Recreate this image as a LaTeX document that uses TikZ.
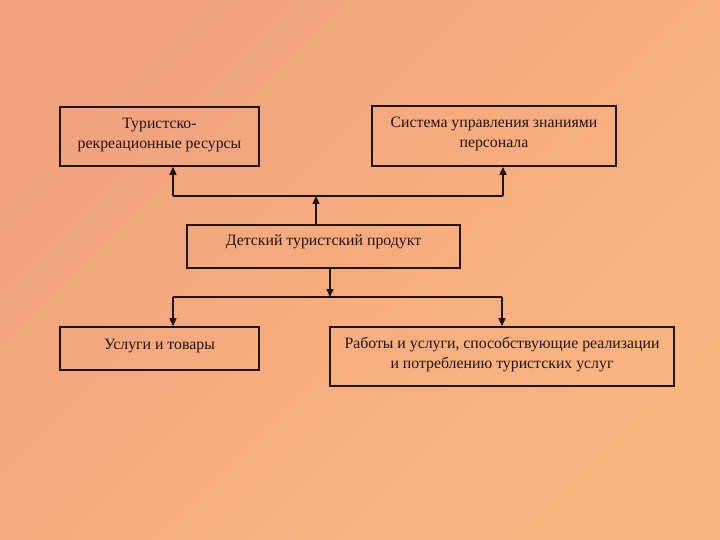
\documentclass[tikz,border=0pt]{standalone}
\usepackage{fontspec}
\setmainfont{Liberation Serif}
\usetikzlibrary{arrows.meta,shadings}
\definecolor{bgA}{HTML}{F2A27F}
\definecolor{bgB}{HTML}{FBB680}
\definecolor{ink}{HTML}{1E1410}
\begin{document}
\begin{tikzpicture}[x=1pt,y=-1pt,
  box/.style={draw=ink,line width=1.6pt,inner sep=0pt,align=center,font=\fontsize{15.8}{20}\selectfont,text=ink},
  conn/.style={draw=ink,line width=1.4pt},
  arr/.style={conn,-{Triangle[length=8pt,width=7pt]}}]
\shade[left color=bgA,right color=bgB,shading angle=45] (0,0) rectangle (720,540);
\useasboundingbox (0,0) rectangle (720,540);
\node[box,minimum width=199pt,minimum height=59pt] (res) at (159.5,136.5) {Туристско-\\рекреационные ресурсы\\[-13pt]~};
\node[box,minimum width=244pt,minimum height=60pt] (sys) at (494,136) {Система управления знаниями\\персонала\\[-13pt]~};
\node[box,minimum width=273pt,minimum height=43pt] (prod) at (323.5,246.5) {Детский туристский продукт\\[-8pt]~};
\node[box,minimum width=199pt,minimum height=43pt] (usl) at (159.5,348.5) {Услуги и товары\\[-12pt]~};
\node[box,minimum width=344pt,minimum height=59pt] (rab) at (502,356.5) {Работы и услуги, способствующие реализации\\и потреблению туристских услуг\\[-13pt]~};
\coordinate (tj) at (316,196);
\coordinate (tl) at (173,196);
\coordinate (tr) at (503,196);
\coordinate (bj) at (330,297);
\coordinate (bl) at (173,297);
\coordinate (br) at (502,297);
\draw[arr] (prod.north -| tj) -- (tj);
\draw[conn] (tl) -- (tr);
\draw[arr] (tl) -- (tl |- res.south);
\draw[arr] (tr) -- (tr |- sys.south);
\draw[arr] (bj |- prod.south) -- (bj);
\draw[conn] (bl) -- (br);
\draw[arr] (bl) -- (bl |- usl.north);
\draw[arr] (br) -- (br |- rab.north);
\end{tikzpicture}
\end{document}
